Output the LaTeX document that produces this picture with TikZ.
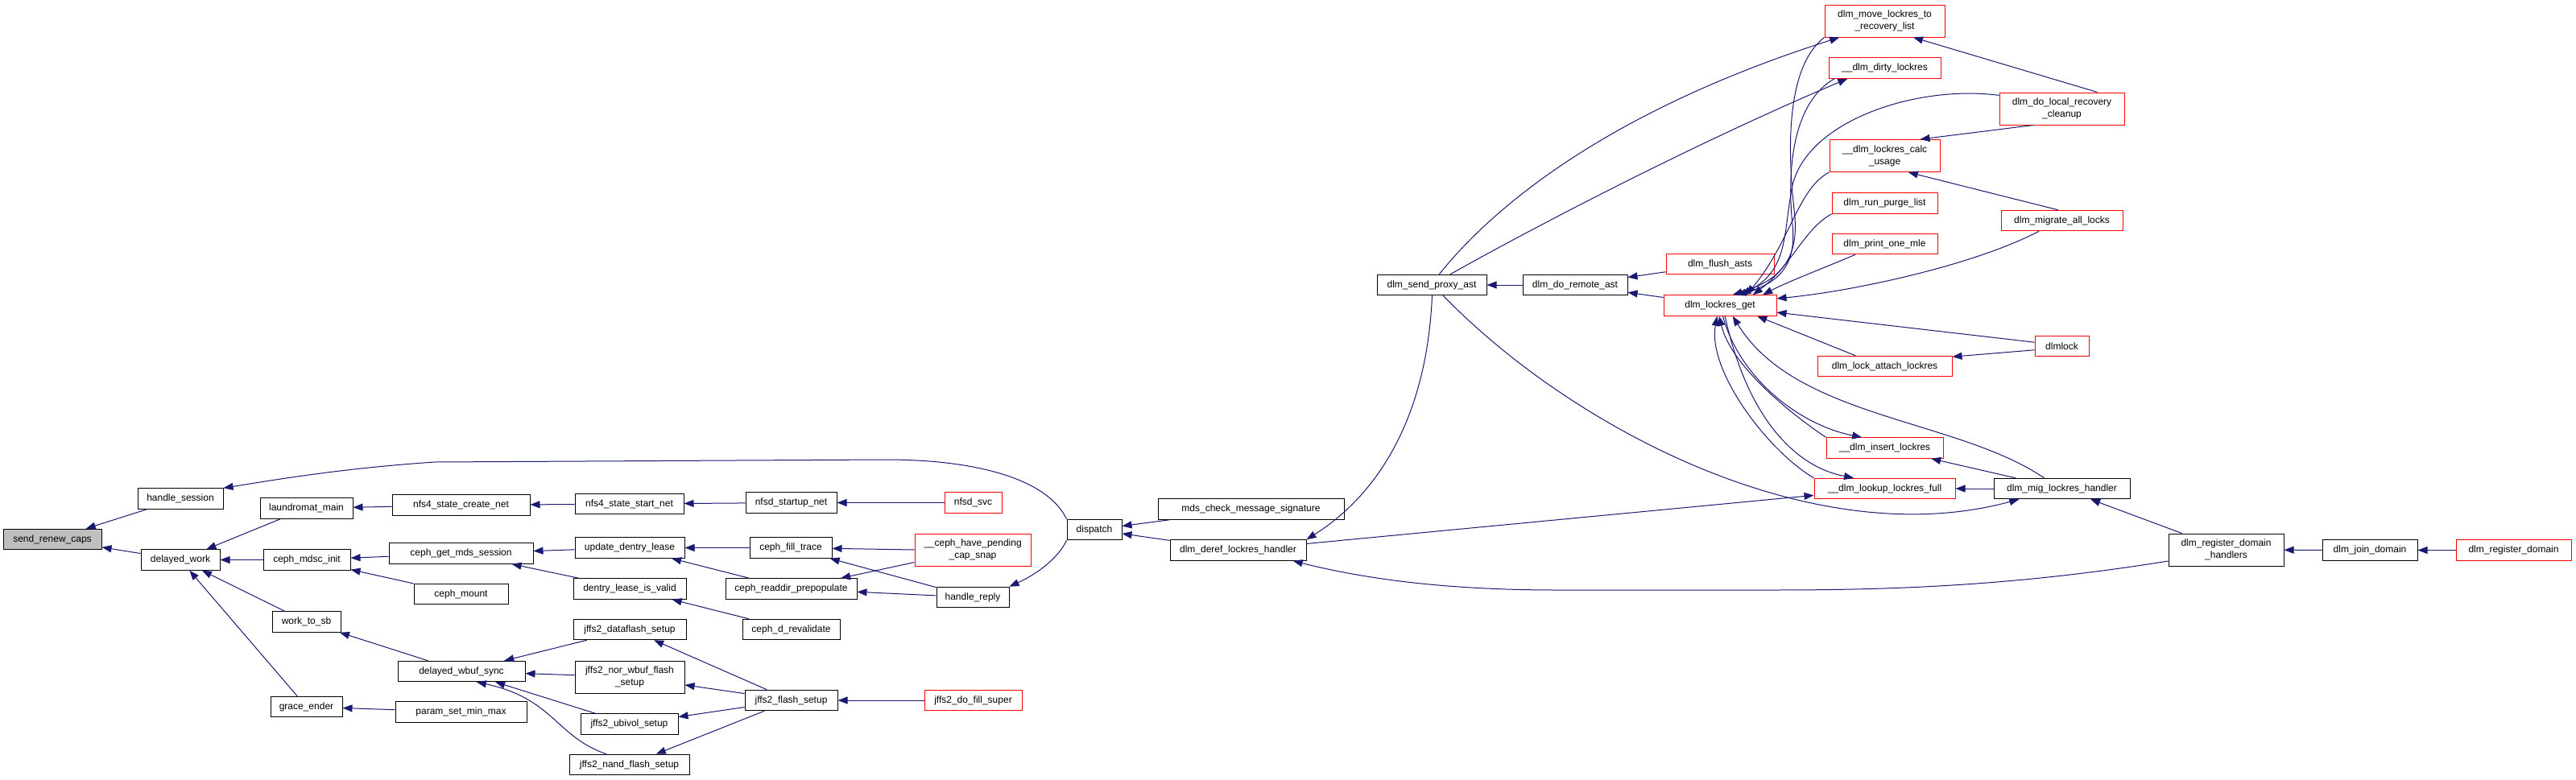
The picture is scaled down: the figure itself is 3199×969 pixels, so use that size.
\documentclass[tikz,border=0pt]{standalone}
\usepackage{fontspec}
\setmainfont{Liberation Sans}
\usepackage{tikz}
\usetikzlibrary{arrows.meta}
\definecolor{EdgeBlue}{HTML}{191970}
\definecolor{RootGray}{HTML}{BFBFBF}
\definecolor{TruncRed}{HTML}{FF0000}

\begin{document}
\begin{tikzpicture}[x=1pt,y=-1pt,>={Triangle[length=12pt,width=9pt]},
  fn/.style={draw=black,fill=white,line width=1pt,inner sep=0pt,
    minimum height=25.5pt,align=center,font=\fontsize{12}{15}\selectfont},
  trunc/.style={fn,draw=TruncRed},
  root/.style={fn,fill=RootGray},
  twoline/.style={minimum height=40pt},
  call/.style={->,EdgeBlue,line width=1pt}]
  \useasboundingbox (0,0) rectangle (3199,969);

  % left half: ceph, nfsd and jffs2 callers
  \node[root,minimum width=122pt] (src) at (65,670) {send\_renew\_caps};
  \node[fn,minimum width=106pt] (hsess) at (224,619.5) {handle\_session};
  \node[fn,minimum width=98pt] (dwork) at (224,695.5) {delayed\_work};
  \node[fn,minimum width=115pt] (laund) at (380.5,631.5) {laundromat\_main};
  \node[fn,minimum width=108pt] (mdsc) at (381,695.5) {ceph\_mdsc\_init};
  \node[fn,minimum width=85pt] (wsb) at (380.5,772.5) {work\_to\_sb};
  \node[fn,minimum width=89pt] (grace) at (380.5,878) {grace\_ender};
  \node[fn,minimum width=171pt] (ncreate) at (572.5,627.5) {nfs4\_state\_create\_net};
  \node[fn,minimum width=179pt] (getmds) at (572.5,687.5) {ceph\_get\_mds\_session};
  \node[fn,minimum width=117pt] (mount) at (572.5,738) {ceph\_mount};
  \node[fn,minimum width=158pt] (wbuf) at (573,834) {delayed\_wbuf\_sync};
  \node[fn,minimum width=163pt] (param) at (572.5,884.5) {param\_set\_min\_max};
  \node[fn,minimum width=135pt] (nstart) at (781.5,626) {nfs4\_state\_start\_net};
  \node[fn,minimum width=136pt] (upd) at (782,680.5) {update\_dentry\_lease};
  \node[fn,minimum width=140pt] (valid) at (782,731.5) {dentry\_lease\_is\_valid};
  \node[fn,minimum width=140pt] (dflash) at (782,782) {jffs2\_dataflash\_setup};
  \node[fn,twoline,minimum width=136pt] (nor) at (782,841) {jffs2\_nor\_wbuf\_flash\\\_setup};
  \node[fn,minimum width=121pt] (ubi) at (781.5,899.5) {jffs2\_ubivol\_setup};
  \node[fn,minimum width=149pt] (nand) at (781.5,950) {jffs2\_nand\_flash\_setup};
  \node[fn,minimum width=113pt] (nsnet) at (982.5,624.5) {nfsd\_startup\_net};
  \node[fn,minimum width=102pt] (fill) at (982,680.5) {ceph\_fill\_trace};
  \node[fn,minimum width=163pt] (readdir) at (982.5,731.5) {ceph\_readdir\_prepopulate};
  \node[fn,minimum width=121pt] (reval) at (982.5,782) {ceph\_d\_revalidate};
  \node[fn,minimum width=115pt] (fsetup) at (982.5,870) {jffs2\_flash\_setup};
  \node[trunc,minimum width=71pt] (svc) at (1208.5,624.5) {nfsd\_svc};
  \node[trunc,twoline,minimum width=144pt] (pend) at (1208,683) {\_\_ceph\_have\_pending\\\_cap\_snap};
  \node[fn,minimum width=90pt] (reply) at (1208,742) {handle\_reply};
  \node[trunc,minimum width=121pt] (fsuper) at (1208.5,870) {jffs2\_do\_fill\_super};
  \node[fn,minimum width=68pt] (disp) at (1359,658) {dispatch};
  \node[fn,minimum width=231pt] (mds) at (1553.5,632.5) {mds\_check\_message\_signature};
  \node[fn,minimum width=169pt] (deref) at (1537.5,683.5) {dlm\_deref\_lockres\_handler};

  % right half: dlm callers
  \node[fn,minimum width=136pt] (proxy) at (1778,354) {dlm\_send\_proxy\_ast};
  \node[fn,minimum width=130pt] (remote) at (1956,354) {dlm\_do\_remote\_ast};
  \node[trunc,minimum width=134pt] (flush) at (2136,328) {dlm\_flush\_asts};
  \node[trunc,minimum width=140pt] (lget) at (2136,379.5) {dlm\_lockres\_get};
  \node[trunc,twoline,minimum width=149pt] (move) at (2340.5,26) {dlm\_move\_lockres\_to\\\_recovery\_list};
  \node[trunc,minimum width=139pt] (dirty) at (2340.5,84.5) {\_\_dlm\_dirty\_lockres};
  \node[trunc,twoline,minimum width=137pt] (calc) at (2340.5,193.5) {\_\_dlm\_lockres\_calc\\\_usage};
  \node[trunc,minimum width=131pt] (purge) at (2340.5,252.5) {dlm\_run\_purge\_list};
  \node[trunc,minimum width=131pt] (mle) at (2340.5,303) {dlm\_print\_one\_mle};
  \node[trunc,minimum width=167pt] (attach) at (2340.5,455) {dlm\_lock\_attach\_lockres};
  \node[trunc,minimum width=145pt] (insert) at (2340.5,556.5) {\_\_dlm\_insert\_lockres};
  \node[trunc,minimum width=175pt] (lookup) at (2340.5,607) {\_\_dlm\_lookup\_lockres\_full};
  \node[trunc,twoline,minimum width=155pt] (cleanup) at (2560.5,135) {dlm\_do\_local\_recovery\\\_cleanup};
  \node[trunc,minimum width=151pt] (migall) at (2560.5,274) {dlm\_migrate\_all\_locks};
  \node[trunc,minimum width=67pt] (dlmlock) at (2560.5,430) {dlmlock};
  \node[fn,minimum width=169pt] (mig) at (2560.5,607) {dlm\_mig\_lockres\_handler};
  \node[fn,twoline,minimum width=143pt] (rdh) at (2764.5,683) {dlm\_register\_domain\\\_handlers};
  \node[fn,minimum width=118pt] (join) at (2943,683.5) {dlm\_join\_domain};
  \node[trunc,minimum width=143pt] (regd) at (3121.5,683.5) {dlm\_register\_domain};

  % calls, arrow at the callee
  \draw[call] (hsess) -- (src);
  \draw[call] (dwork) -- (src);
  \draw[call] (laund) -- (dwork);
  \draw[call] (mdsc) -- (dwork);
  \draw[call] (wsb) -- (dwork);
  \draw[call] (grace) -- (dwork);
  \draw[call] (ncreate) -- (laund);
  \draw[call] (getmds) -- (mdsc);
  \draw[call] (mount) -- (mdsc);
  \draw[call] (wbuf) -- (wsb);
  \draw[call] (param) -- (grace);
  \draw[call] (nstart) -- (ncreate);
  \draw[call] (upd) -- (getmds);
  \draw[call] (valid) -- (getmds);
  \draw[call] (dflash) -- (wbuf);
  \draw[call] (nor) -- (wbuf);
  \draw[call] (ubi) -- (wbuf);
  \draw[call] (nand.155) .. controls (690,915) and (688,868) .. (wbuf.-35);
  \draw[call] (nsnet) -- (nstart);
  \draw[call] (fill) -- (upd);
  \draw[call] (readdir) -- (upd);
  \draw[call] (reval) -- (valid);
  \draw[call] (fsetup) -- (dflash);
  \draw[call] (fsetup) -- (nor);
  \draw[call] (fsetup) -- (ubi);
  \draw[call] (fsetup) -- (nand);
  \draw[call] (svc) -- (nsnet);
  \draw[call] (pend.west) -- (fill);
  \draw[call] (pend) -- (readdir);
  \draw[call] (reply) -- (fill);
  \draw[call] (reply) -- (readdir);
  \draw[call] (fsuper) -- (fsetup);
  \draw[call] (disp.south west) .. controls (1315,692) and (1290,712) .. (reply.north east);
  \draw[call] (disp.north west) .. controls (1300,594) and (1210,571) .. (1100,571)
    -- (540,574) .. controls (420,582) and (330,598) .. (hsess.north east);
  \draw[call] (mds) -- (disp);
  \draw[call] (deref) -- (disp);

  \draw[call] (remote) -- (proxy);
  \draw[call] (proxy.-88) .. controls (1772,520) and (1710,615) .. (deref.north east);
  \draw[call] (proxy.55) .. controls (1850,262) and (1990,140) .. (move.-160);
  \draw[call] (proxy.30) .. controls (1900,285) and (2100,180) .. (dirty.-164);
  \draw[call] (proxy.-43) .. controls (1950,530) and (2250,690) .. (mig.-166);
  \draw[call] (deref) -- (lookup);
  \draw[call] (rdh.-169) .. controls (2500,728) and (2350,733) .. (2200,733)
    -- (1933,733) .. controls (1790,733) and (1690,718) .. (deref.-11);
  \draw[call] (rdh) -- (mig);
  \draw[call] (join) -- (rdh);
  \draw[call] (regd) -- (join);
  \draw[call] (mig) -- (lookup);
  \draw[call] (mig) -- (insert);
  \draw[call] (flush) -- (remote);
  \draw[call] (lget) -- (remote);
  \draw[call] (cleanup.25) -- (move.-30);
  \draw[call] (cleanup.-150) -- (calc.25);
  \draw[call] (migall.110) -- (calc.-35);
  \draw[call] (dlmlock.-172) -- (attach.8);

  % everything that ends at dlm_lockres_get
  \draw[call] (move.south west) .. controls (2222,80) and (2218,170) .. (2228,260)
    .. controls (2234,310) and (2222,345) .. (lget.40);
  \draw[call] (dirty.-168) .. controls (2230,125) and (2218,200) .. (2226,280)
    .. controls (2230,320) and (2218,350) .. (lget.33);
  \draw[call] (cleanup.168) .. controls (2380,105) and (2245,150) .. (2226,230)
    .. controls (2214,290) and (2222,335) .. (lget.27);
  \draw[call] (calc.south west) .. controls (2232,235) and (2224,300) .. (lget.22);
  \draw[call] (purge.south west) .. controls (2240,285) and (2225,330) .. (lget.18);
  \draw[call] (mle.-160) .. controls (2260,335) and (2220,350) .. (lget.14);
  \draw[call] (migall.-155) .. controls (2450,330) and (2300,362) .. (lget.7);
  \draw[call] (dlmlock.172) -- (lget.-7);
  \draw[call] (attach.160) -- (lget.-16);
  \draw[call] (mig.149) .. controls (2430,520) and (2230,520) .. (lget.-40);
  \draw[call] (insert.north west) .. controls (2225,515) and (2150,455) .. (lget.-95);
  \draw[call] (lookup.north west) .. controls (2195,560) and (2120,460) .. (lget.-105);
  \draw[call] (lget.-75) .. controls (2160,470) and (2235,528) .. (insert.155);
  \draw[call] (lget.-65) .. controls (2170,520) and (2230,580) .. (lookup.161);
\end{tikzpicture}
\end{document}
